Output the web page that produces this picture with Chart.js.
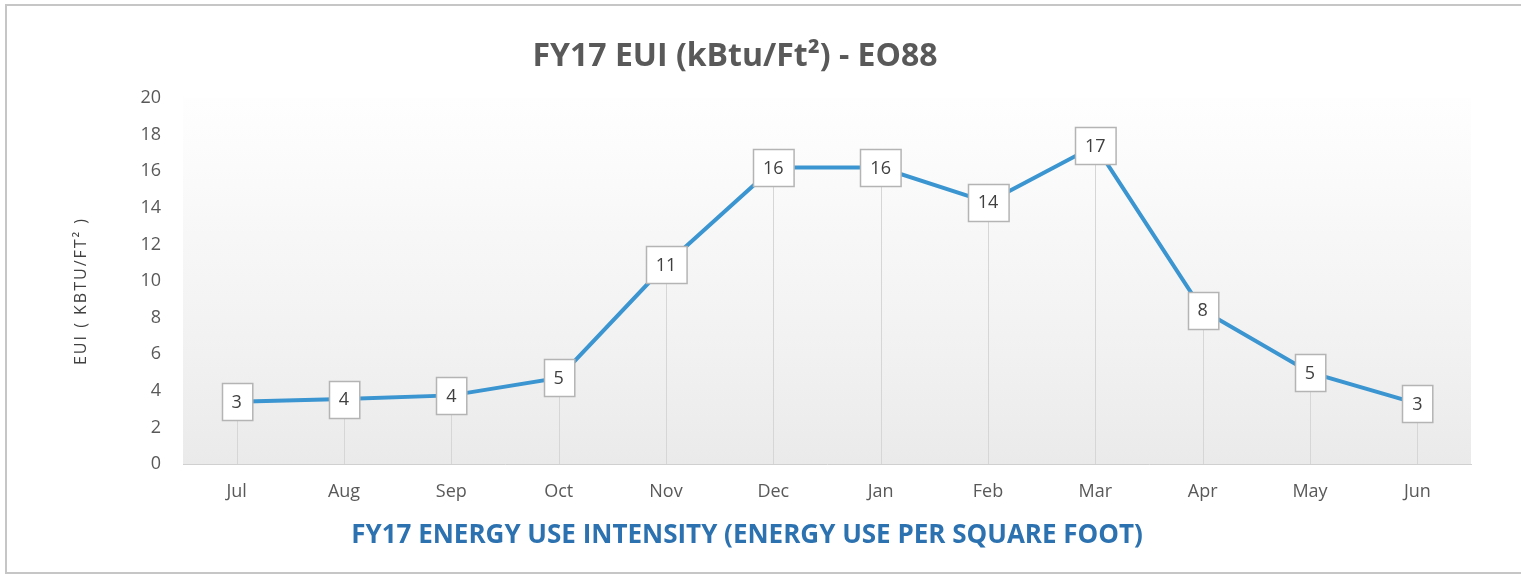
<!DOCTYPE html>
<html>
<head>
<meta charset="utf-8">
<script src="https://cdn.jsdelivr.net/npm/chart.js@4/dist/chart.umd.min.js"></script>
<style>
  body { margin: 0; background: #ffffff; }
  #wrap { width: 1521px; height: 578px; }
</style>
</head>
<body>
<div id="wrap"><canvas id="euiChart" width="1521" height="578"></canvas></div>
<script>
// data
var months = ["Jul","Aug","Sep","Oct","Nov","Dec","Jan","Feb","Mar","Apr","May","Jun"];
var euiValues = [3.4, 3.55, 3.75, 4.7, 10.9, 16.2, 16.2, 14.3, 17.4, 8.4, 5.0, 3.3];
var yTicks = [0, 2, 4, 6, 8, 10, 12, 14, 16, 18, 20];

var chartTitle = "FY17 EUI (kBtu/Ft\u00b2) - EO88";
var xTitle = "FY17 ENERGY USE INTENSITY (ENERGY USE PER SQUARE FOOT)";
var yTitle = "EUI ( KBTU/FT\u00b2 )";

var lineColor = "#3a95d0";
var textGray = "#595959";

// frame, plot background, drop lines
var backdrop = {
	id: 'backdrop',
	beforeDraw: function(chart) {
		var ctx = chart.ctx, a = chart.chartArea;
		ctx.save();
		ctx.fillStyle = "#ffffff";
		ctx.fillRect(0, 0, chart.width, chart.height);
		var g = ctx.createLinearGradient(0, a.top, 0, a.bottom);
		g.addColorStop(0, "rgba(245,245,245,0.1)");
		g.addColorStop(0.35, "rgba(240,240,240,0.5)");
		g.addColorStop(1, "rgba(234,234,234,1)");
		ctx.fillStyle = g;
		ctx.fillRect(a.left, a.top, a.right - a.left, a.bottom - a.top);
		ctx.strokeStyle = "#c6c6c6";
		ctx.lineWidth = 2;
		ctx.strokeRect(6, 5, chart.width + 4, 568);
		ctx.restore();
	},
	beforeDatasetsDraw: function(chart) {
		var ctx = chart.ctx, a = chart.chartArea;
		var meta = chart.getDatasetMeta(0);
		ctx.save();
		ctx.strokeStyle = "#d6d6d6";
		ctx.lineWidth = 1;
		meta.data.forEach(function(pt) {
			ctx.beginPath();
			ctx.moveTo(Math.round(pt.x) + 0.5, pt.y);
			ctx.lineTo(Math.round(pt.x) + 0.5, a.bottom);
			ctx.stroke();
		});
		ctx.restore();
	}
};

// boxed value labels + titles
var valueBoxes = {
	id: 'valueBoxes',
	afterDatasetsDraw: function(chart) {
		var ctx = chart.ctx;
		var meta = chart.getDatasetMeta(0);
		ctx.save();
		ctx.font = "18px 'Open Sans'";
		ctx.textAlign = "center";
		ctx.textBaseline = "middle";
		meta.data.forEach(function(pt, i) {
			var txt = String(Math.round(euiValues[i]));
			var w = ctx.measureText(txt).width + 20;
			var h = 37;
			var x = Math.round(pt.x - w / 2) + 0.5, y = Math.round(pt.y - h / 2) + 0.5;
			ctx.fillStyle = "#ffffff";
			ctx.fillRect(x, y, w, h);
			ctx.strokeStyle = "#b4b4b4";
			ctx.lineWidth = 1.5;
			ctx.strokeRect(x, y, w, h);
			ctx.fillStyle = "#404040";
			ctx.fillText(txt, pt.x, pt.y + 1);
		});
		ctx.font = "bold 32px 'Open Sans'";
		ctx.fillStyle = textGray;
		ctx.fillText(chartTitle, 735, 57);

		ctx.font = "bold 26px 'Open Sans'";
		ctx.fillStyle = "#2d72b0";
		ctx.fillText(xTitle, 747, 536);

		ctx.translate(81, 291);
		ctx.rotate(-Math.PI / 2);
		ctx.font = "16px 'Open Sans'";
		ctx.letterSpacing = "2px";
		ctx.fillStyle = "#404040";
		ctx.fillText(yTitle, 0, 0);
		ctx.restore();
	}
};

new Chart(document.getElementById("euiChart"), {
	type: 'line',
	data: {
		labels: months,
		datasets: [{
			data: euiValues,
			borderColor: lineColor,
			borderWidth: 4,
			pointRadius: 0,
			tension: 0,
			fill: false
		}]
	},
	options: {
		responsive: false,
		animation: false,
		layout: { padding: { top: 98, right: 50, bottom: 0, left: 0 } },
		plugins: { legend: { display: false }, tooltip: { enabled: false } },
		scales: {
			x: {
				offset: true,
				grid: { display: false, drawTicks: false },
				border: { color: "#d0d0d0", width: 1 },
				ticks: { color: textGray, font: { family: "'Open Sans'", size: 18 }, padding: 17 },
				afterFit: function(s) { s.height = 114; }
			},
			y: {
				min: 0, max: 20,
				afterBuildTicks: function(s) { s.ticks = yTicks.map(function(v) { return { value: v }; }); },
				grid: { display: false, drawTicks: false },
				border: { display: false },
				ticks: { color: textGray, font: { family: "'Open Sans'", size: 18 }, padding: 22 },
				afterFit: function(s) { s.width = 183; }
			}
		}
	},
	plugins: [backdrop, valueBoxes]
});
</script>
</body>
</html>
